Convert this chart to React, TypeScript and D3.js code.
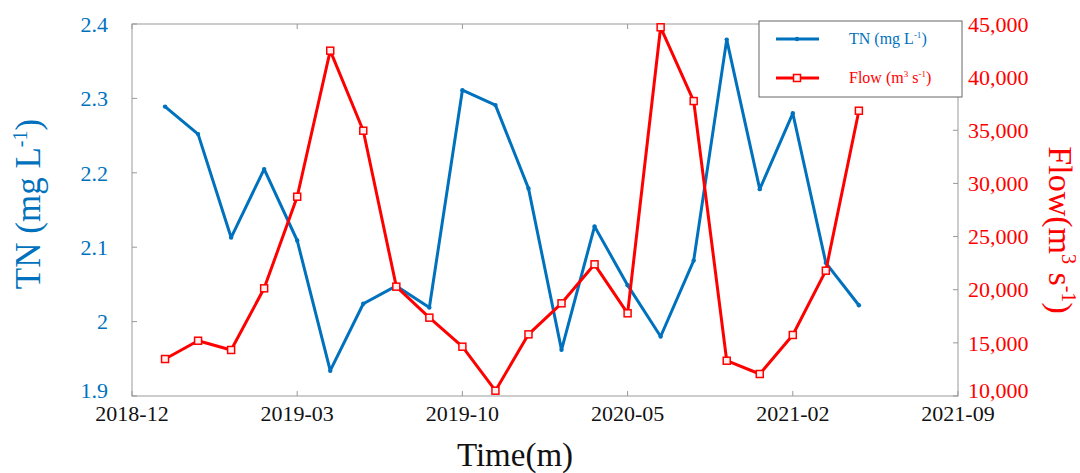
import React from "react";
import * as d3 from "d3";

const monthIndex = [1,2,3,4,5,6,7,8,9,10,11,12,13,14,15,16,17,18,19,20,21,22];
const tnValues = [2.289,2.252,2.113,2.205,2.109,1.934,2.024,2.048,2.019,2.311,2.291,2.179,1.962,2.128,2.049,1.980,2.082,2.379,2.178,2.280,2.079,2.022];
const flowValues = [13480,15200,14330,20130,28750,42490,34960,20290,17370,14640,10500,15800,18720,22390,17780,44690,37750,13320,12070,15740,21790,36840];
const xTickPos = [0,5,10,15,20,25];
const xTickLabels = ["2018-12","2019-03","2019-10","2020-05","2021-02","2021-09"];
const tnTicks = [1.9,2.0,2.1,2.2,2.3,2.4];
const flowTicks = [10000,15000,20000,25000,30000,35000,40000,45000];

const W = 1080, H = 473;
const L = 132, R = 958, T = 24, B = 396;
const BLUE = "#0072BD";
const RED = "#FF0000";
const FONT = "'Liberation Serif', 'Times New Roman', serif";

export default function App() {
  const x = d3.scaleLinear().domain([0, 25]).range([L, R]);
  const yL = d3.scaleLinear().domain([1.9, 2.4]).range([B, T]);
  const yR = d3.scaleLinear().domain([10000, 45000]).range([B, T]);
  const tnLine = d3.line<number>().x((_, i) => x(monthIndex[i])).y((d) => yL(d));
  const flowLine = d3.line<number>().x((_, i) => x(monthIndex[i])).y((d) => yR(d));
  const fmtL = (v: number) => (Math.abs(v - 2) < 1e-9 ? "2" : d3.format(".1f")(v));
  const fmtR = d3.format(",");
  const tickLen = 5;
  return (
    <svg width={W} height={H} style={{ position: "absolute", left: 0, top: 0, background: "#fff" }} fontFamily={FONT}>
      <rect x={0} y={0} width={W} height={H} fill="#fff" />
      <rect x={L} y={T} width={R - L} height={B - T} fill="none" stroke="#999" strokeWidth={1} />
      {xTickPos.map((t, i) => (
        <g key={"xt" + i}>
          <line x1={x(t)} x2={x(t)} y1={B} y2={B - tickLen} stroke="#999" />
          <line x1={x(t)} x2={x(t)} y1={T} y2={T + tickLen} stroke="#999" />
          <text x={x(t)} y={421} textAnchor="middle" fontSize={22} fill="#111">{xTickLabels[i]}</text>
        </g>
      ))}
      {tnTicks.map((t, i) => (
        <g key={"lt" + i}>
          <line x1={L} x2={L + tickLen} y1={yL(t)} y2={yL(t)} stroke="#999" />
          <text x={108} y={yL(t) - (i === 0 ? 6 : 0)} dy="0.35em" textAnchor="end" fontSize={22} fill={BLUE}>{fmtL(t)}</text>
        </g>
      ))}
      {flowTicks.map((t, i) => (
        <g key={"rt" + i}>
          <line x1={R} x2={R - tickLen} y1={yR(t)} y2={yR(t)} stroke="#999" />
          <text x={968} y={yR(t) - (i === 0 ? 6 : 0)} dy="0.35em" textAnchor="start" fontSize={22} fill={RED}>{fmtR(t)}</text>
        </g>
      ))}
      <text transform={`translate(40,204) rotate(-90)`} textAnchor="middle" fontSize={35} fill={BLUE}>
        TN (mg L<tspan dy={-13} fontSize={20}>-1</tspan><tspan dy={13}>)</tspan>
      </text>
      <text transform={`translate(1049,230) rotate(90)`} textAnchor="middle" fontSize={34} fill={RED}>
        Flow(m<tspan dy={-13} fontSize={20}>3</tspan><tspan dy={13}> s</tspan><tspan dy={-13} fontSize={20}>-1</tspan><tspan dy={13}>)</tspan>
      </text>
      <text x={515} y={466} textAnchor="middle" fontSize={33} fill="#111">Time(m)</text>
      <path d={tnLine(tnValues) || ""} fill="none" stroke={BLUE} strokeWidth={3} strokeLinejoin="round" />
      {tnValues.map((v, i) => (
        <circle key={"tp" + i} cx={x(monthIndex[i])} cy={yL(v)} r={2.2} fill={BLUE} />
      ))}
      <path d={flowLine(flowValues) || ""} fill="none" stroke={RED} strokeWidth={3} strokeLinejoin="round" />
      {flowValues.map((v, i) => (
        <rect key={"fp" + i} x={x(monthIndex[i]) - 3.5} y={yR(v) - 3.5} width={7} height={7} fill="#fff0f0" stroke={RED} strokeWidth={1.5} />
      ))}
      <rect x={759} y={21} width={203} height={76} fill="#fff" stroke="#666" strokeWidth={1} />
      <line x1={776} x2={819} y1={39} y2={39} stroke={BLUE} strokeWidth={3} />
      <circle cx={797} cy={39} r={2.2} fill={BLUE} />
      <text x={849} y={44} fontSize={16} fill={BLUE}>TN (mg L<tspan dy={-6} fontSize={9}>-1</tspan><tspan dy={6}>)</tspan></text>
      <line x1={776} x2={819} y1={78} y2={78} stroke={RED} strokeWidth={3} />
      <rect x={793.5} y={74.5} width={7} height={7} fill="#fff0f0" stroke={RED} strokeWidth={1.5} />
      <text x={849} y={83} fontSize={16} fill={RED}>Flow (m<tspan dy={-6} fontSize={9}>3</tspan><tspan dy={6}> s</tspan><tspan dy={-6} fontSize={9}>-1</tspan><tspan dy={6}>)</tspan></text>
    </svg>
  );
}
